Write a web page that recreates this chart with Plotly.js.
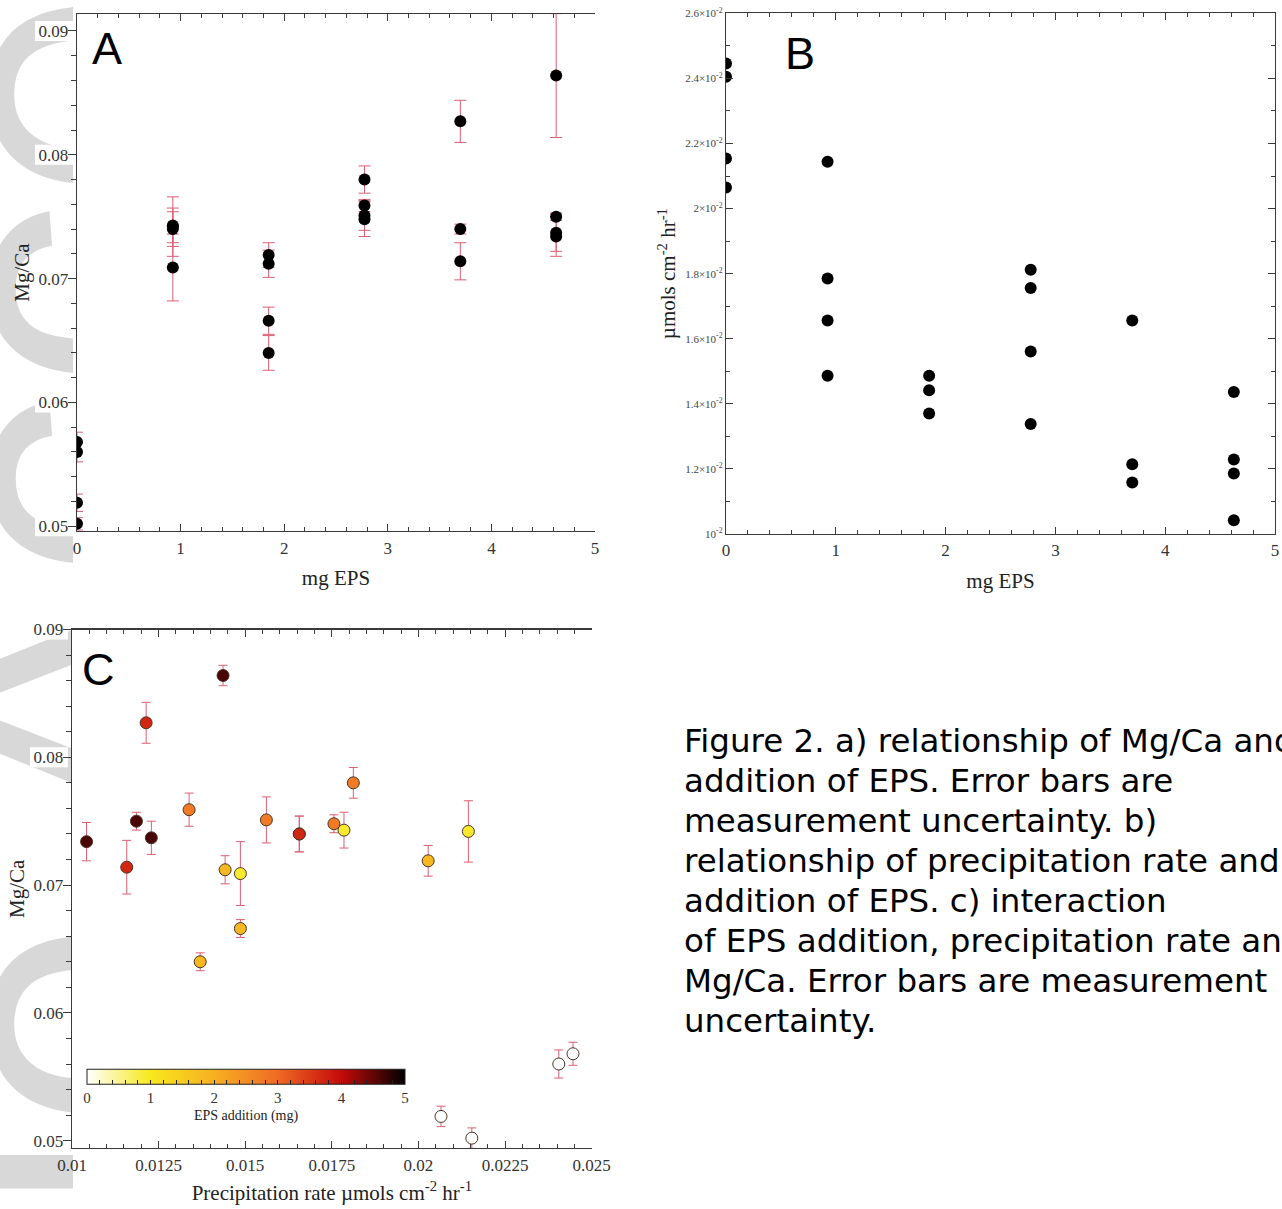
<!DOCTYPE html>
<html>
<head>
<meta charset="utf-8">
<script src="https://cdn.plot.ly/plotly-3.0.1.min.js"></script>
<style>
  html, body { margin:0; padding:0; background:#ffffff; }
  #wrap { position:relative; width:1282px; height:1209px; overflow:hidden; background:#ffffff; }
  #wm { position:absolute; left:0; top:0; width:73px; height:1209px; overflow:hidden; }
  #wm span { position:absolute; left:-127px; top:1974px; font-family:'Liberation Sans', Arial, sans-serif; font-size:380px; line-height:1; color:#d8d8d8; white-space:nowrap; transform-origin:0 0; transform:rotate(-90deg); }
  #chart { position:absolute; left:0; top:0; width:1282px; height:1209px; }
</style>
</head>
<body>
<div id="wrap">
  <div id="wm"><span>Article Accepted Article</span></div>
  <div id="chart"></div>
</div>
<script>
// ---- data (one entry per sample) ----
const epsMg   = [0, 0, 0, 0, 0.925, 0.925, 0.925, 0.925, 1.85, 1.85, 1.85, 1.85, 2.775, 2.775, 2.775, 2.775, 3.7, 3.7, 3.7, 4.625, 4.625, 4.625, 4.625];
const precipRate = [0.02446, 0.02405, 0.02065, 0.02154, 0.02144, 0.01785, 0.01656, 0.01486, 0.01486, 0.01442, 0.0137, 0.02028, 0.01812, 0.01756, 0.01561, 0.01338, 0.01656, 0.01214, 0.01158, 0.01436, 0.01229, 0.01186, 0.01042];
const shownInB = [1, 1, 1, 1, 1, 1, 1, 1, 1, 1, 1, 0, 1, 1, 1, 1, 1, 1, 1, 1, 1, 1, 1];
const mgCa    = [0.0568, 0.0560, 0.0519, 0.0502, 0.0742, 0.0743, 0.0740, 0.0709, 0.0666, 0.0712, 0.0640, 0.0719, 0.0780, 0.0748, 0.0751, 0.0759, 0.0740, 0.0827, 0.0714, 0.0864, 0.0737, 0.0750, 0.0734];
const errA    = [0.0008, 0.0008, 0.0007, 0.0005, 0.0024, 0.0014, 0.0014, 0.0027, 0.0011, 0.0011, 0.0014, 0.0010, 0.0011, 0.0014, 0.0012, 0.0005, 0.0004, 0.0017, 0.0015, 0.0050, 0.0015, 0.0003, 0.0016];
const errC    = [0.0009, 0.0011, 0.0008, 0.0008, 0.0024, 0.0014, 0.0014, 0.0025, 0.0007, 0.0011, 0.0007, 0.0012, 0.0012, 0.0007, 0.0018, 0.0013, 0.0014, 0.0016, 0.0021, 0.0008, 0.0013, 0.0007, 0.0015];

// ---- tick labels ----
const mgTickVals  = [0.05, 0.06, 0.07, 0.08, 0.09];
const bTickVals   = [0.010, 0.012, 0.014, 0.016, 0.018, 0.020, 0.022, 0.024, 0.026];
const bTickLabels = ['10<sup>-2</sup>', '1.2×10<sup>-2</sup>', '1.4×10<sup>-2</sup>', '1.6×10<sup>-2</sup>', '1.8×10<sup>-2</sup>', '2×10<sup>-2</sup>', '2.2×10<sup>-2</sup>', '2.4×10<sup>-2</sup>', '2.6×10<sup>-2</sup>'];
const cbarLabels  = ['0', '1', '2', '3', '4', '5'];
const captionLines = [
  'Figure 2. a) relationship of Mg/Ca and',
  'addition of EPS. Error bars are',
  'measurement uncertainty. b)',
  'relationship of precipitation rate and',
  'addition of EPS. c) interaction',
  'of EPS addition, precipitation rate and',
  'Mg/Ca. Error bars are measurement',
  'uncertainty.'
];

// ---- geometry helpers (pixels -> paper) ----
const W = 1282, H = 1209;
const px = v => v / W;
const py = v => 1 - v / H;

const SERIF = 'Liberation Serif, Times New Roman, serif';
const axisCol = '#3a3a3a';
const tickFont = {family: SERIF, size: 17, color: '#333'};
const titleFont = {family: SERIF, size: 21, color: '#222'};
const errCol = '#dc5f72';

const colorscale = [[0, '#ffffff'], [0.2, '#f8e81c'], [0.4, '#f6b022'], [0.6, '#ef6a25'], [0.8, '#c40a0a'], [1, '#000000']];

// plot boxes (pixels)
const boxA = {l: 77, r: 595, t: 14, b: 531, y0: 0.04962, y1: 0.09137};
const boxB = {l: 726, r: 1275, t: 13.3, b: 534};
const boxC = {l: 72, r: 591.7, t: 629.5, b: 1148, y0: 0.049428, y1: 0.09};

function baseAxis(extra) {
  return Object.assign({
    showgrid: false, zeroline: false, showline: true, linecolor: axisCol, linewidth: 1.3,
    tickcolor: axisCol, tickwidth: 1, tickfont: tickFont
  }, extra);
}

// Panel B subset
const bX = [], bY = [];
epsMg.forEach((e, i) => { if (shownInB[i]) { bX.push(e); bY.push(precipRate[i]); } });

// colorbar ticks (major labelled, minor unlabelled)
const cbVals = [], cbText = [];
for (let k = 0; k <= 25; k++) { cbVals.push(k * 0.2); cbText.push(k % 5 === 0 ? cbarLabels[k / 5] : ' '); }

// white label backdrops (as in the source image) behind the Mg/Ca tick labels
const shapes = [];
[boxA, boxC].forEach(bx => {
  mgTickVals.forEach(v => {
    const yp = bx.t + (bx.y1 - v) / (bx.y1 - bx.y0) * (bx.b - bx.t);
    shapes.push({type: 'rect', xref: 'paper', yref: 'paper', layer: 'below',
      x0: px(bx.l - 42), x1: px(bx.l - 4), y0: py(yp + 10), y1: py(yp - 10),
      fillcolor: '#ffffff', line: {width: 0}});
  });
});

const traces = [
  { // Panel A
    type: 'scatter', mode: 'markers', x: epsMg, y: mgCa, xaxis: 'x', yaxis: 'y',
    marker: {color: '#000', size: 12},
    error_y: {type: 'data', array: errA, visible: true, color: errCol, thickness: 1, width: 6},
    hoverinfo: 'skip', showlegend: false
  },
  { // Panel B
    type: 'scatter', mode: 'markers', x: bX, y: bY, xaxis: 'x2', yaxis: 'y2',
    marker: {color: '#000', size: 12},
    hoverinfo: 'skip', showlegend: false
  },
  { // Panel C
    type: 'scatter', mode: 'markers', x: precipRate, y: mgCa, xaxis: 'x3', yaxis: 'y3',
    marker: {
      color: epsMg, colorscale: colorscale, cmin: 0, cmax: 5, size: 12,
      line: {color: '#4a3526', width: 1},
      colorbar: {
        orientation: 'h', x: px(246), xanchor: 'center', y: py(1097), yanchor: 'middle',
        len: 318, lenmode: 'pixels', thickness: 15, thicknessmode: 'pixels',
        xpad: 0, ypad: 0, outlinecolor: '#222', outlinewidth: 1,
        tickmode: 'array', tickvals: cbVals, ticktext: cbText,
        ticks: 'inside', ticklen: 4, tickcolor: '#222',
        tickfont: {family: SERIF, size: 15, color: '#333'},
        title: {text: 'EPS addition (mg)', side: 'bottom', font: {family: SERIF, size: 14, color: '#222'}}
      }
    },
    error_y: {type: 'data', array: errC, visible: true, color: errCol, thickness: 1, width: 4.5},
    hoverinfo: 'skip', showlegend: false
  }
];

const letterFont = {family: 'Liberation Sans, Arial, sans-serif', size: 45, color: '#000'};
const annotations = [
  {text: 'A', x: px(107), y: py(48), xref: 'paper', yref: 'paper', xanchor: 'center', yanchor: 'middle', showarrow: false, font: letterFont},
  {text: 'B', x: px(800), y: py(54), xref: 'paper', yref: 'paper', xanchor: 'center', yanchor: 'middle', showarrow: false, font: letterFont},
  {text: 'C', x: px(98), y: py(669), xref: 'paper', yref: 'paper', xanchor: 'center', yanchor: 'middle', showarrow: false, font: letterFont}
];
captionLines.forEach((t, i) => {
  annotations.push({text: t, x: px(682), y: py(741 + 40 * i), xref: 'paper', yref: 'paper', xanchor: 'left', yanchor: 'middle',
    showarrow: false, align: 'left', font: {family: 'DejaVu Sans, Verdana, sans-serif', size: 32.5, color: '#000'}});
});

const layout = {
  width: W, height: H, margin: {l: 0, r: 0, t: 0, b: 0, pad: 0},
  paper_bgcolor: 'rgba(0,0,0,0)', plot_bgcolor: '#ffffff', showlegend: false, hovermode: false,
  // Panel A
  xaxis: baseAxis({domain: [px(boxA.l), px(boxA.r)], range: [0, 5], anchor: 'y', dtick: 1, ticks: 'inside', ticklen: 7,
    minor: {dtick: 0.2, ticks: 'inside', ticklen: 4, tickcolor: axisCol}, mirror: 'allticks', ticklabelstandoff: 1,
    title: {text: 'mg EPS', font: titleFont, standoff: 13}}),
  yaxis: baseAxis({domain: [py(boxA.b), py(boxA.t)], range: [boxA.y0, boxA.y1], anchor: 'x', tickmode: 'array', tickvals: mgTickVals, tickformat: '.2f',
    ticks: 'outside', ticklen: 8, ticklabelstandoff: -4, minor: {tickmode: 'linear', tick0: 0.05, dtick: 0.002, ticks: 'outside', ticklen: 5, tickcolor: axisCol},
    title: {text: 'Mg/Ca', font: titleFont, standoff: 3}}),
  yaxis4: baseAxis({overlaying: 'y', side: 'right', anchor: 'x', range: [boxA.y0, boxA.y1], dtick: 0.01,
    ticks: 'inside', ticklen: 7, showticklabels: false, minor: {dtick: 0.002, ticks: 'inside', ticklen: 6, tickcolor: axisCol}}),
  // Panel B
  xaxis2: baseAxis({domain: [px(boxB.l), px(boxB.r)], range: [0, 5], anchor: 'y2', dtick: 1, ticks: 'inside', ticklen: 7,
    minor: {dtick: 0.2, ticks: 'inside', ticklen: 4, tickcolor: axisCol}, mirror: 'allticks', ticklabelstandoff: 0,
    title: {text: 'mg EPS', font: titleFont, standoff: 14}}),
  yaxis2: baseAxis({domain: [py(boxB.b), py(boxB.t)], range: [0.01, 0.026], anchor: 'x2', tickmode: 'array',
    tickvals: bTickVals, ticktext: bTickLabels, ticks: 'inside', ticklen: 7, mirror: 'allticks',
    tickfont: {family: SERIF, size: 11, color: '#444'},
    minor: {tickmode: 'linear', tick0: 0.01, dtick: 0.001, ticks: 'inside', ticklen: 4, tickcolor: axisCol},
    title: {text: 'µmols cm<sup>-2</sup> hr<sup>-1</sup>', font: {family: SERIF, size: 21, color: '#222'}, standoff: 3}}),
  // Panel C
  xaxis3: baseAxis({domain: [px(boxC.l), px(boxC.r)], range: [0.01, 0.025], anchor: 'y3', dtick: 0.0025, tick0: 0.01, tickformat: '~g',
    ticks: 'inside', ticklen: 7, minor: {dtick: 0.0005, ticks: 'inside', ticklen: 4, tickcolor: axisCol}, mirror: 'allticks',
    ticklabelstandoff: 1,
    title: {text: 'Precipitation rate µmols cm<sup>-2</sup> hr<sup>-1</sup>', font: titleFont, standoff: 11}}),
  yaxis3: baseAxis({domain: [py(boxC.b), py(boxC.t)], range: [boxC.y0, boxC.y1], anchor: 'x3', tickmode: 'array', tickvals: mgTickVals, tickformat: '.2f',
    ticks: 'outside', ticklen: 8, ticklabelstandoff: -4, minor: {tickmode: 'linear', tick0: 0.05, dtick: 0.002, ticks: 'outside', ticklen: 5, tickcolor: axisCol},
    title: {text: 'Mg/Ca', font: titleFont, standoff: 3}}),
  yaxis5: baseAxis({overlaying: 'y3', side: 'right', anchor: 'x3', range: [boxC.y0, boxC.y1], dtick: 0.01,
    ticks: 'inside', ticklen: 7, showticklabels: false, minor: {dtick: 0.002, ticks: 'inside', ticklen: 6, tickcolor: axisCol}}),
  shapes: shapes,
  annotations: annotations
};

Plotly.newPlot('chart', traces, layout, {staticPlot: true, displayModeBar: false});
</script>
</body>
</html>
